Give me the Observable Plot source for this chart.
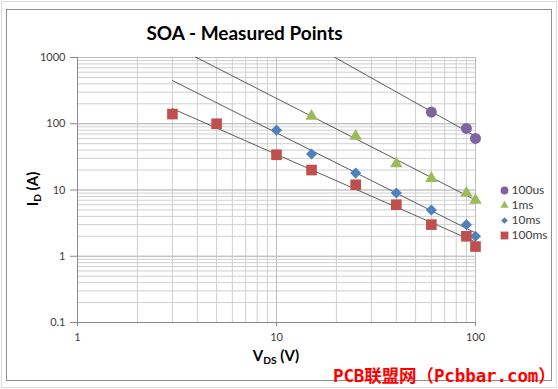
<!DOCTYPE html>
<html>
<head>
<meta charset="utf-8">
<script src="https://cdn.jsdelivr.net/npm/d3@7"></script>
<script src="https://cdn.jsdelivr.net/npm/@observablehq/plot@0.6"></script>
<style>
  html, body { margin: 0; padding: 0; background: #fff; }
  #wrap { position: relative; width: 558px; height: 389px; overflow: hidden; font-family: Lato, "Open Sans", sans-serif; }
  #outer { position: absolute; left: 1px; top: 1px; width: 554px; height: 385px; border: 1px solid #dcdcdc; }
  #frame { position: absolute; left: 6px; top: 9px; width: 544px; height: 370px; border: 1.5px solid #8f8f8f; }
  #chart { position: absolute; left: 0; top: 0; }
  #legend { position: absolute; left: 494px; top: 170px; }
  .lbl { position: absolute; font-weight: bold; color: #000; white-space: nowrap; }
  .lbl sub { font-size: 0.68em; vertical-align: -0.25em; }
  #title { left: 0; width: 489px; text-align: center; top: 21px; font-size: 19px; }
  #xlab { left: 0; width: 552px; text-align: center; top: 346px; font-size: 15px; }
  #ylab { left: 33px; top: 189px; font-size: 15px; transform: translate(-50%, -50%) rotate(-90deg); }
  #wm { position: absolute; left: 333px; top: 362px; color: #ff0000; font-size: 17.5px; font-weight: bold; font-family: "DejaVu Sans Mono", "Noto Sans CJK SC", monospace; white-space: nowrap; letter-spacing: -0.1px; }
</style>
</head>
<body>
<div id="wrap">
  <div id="outer"></div>
  <div id="frame"></div>
  <div id="chart"></div>
  <div id="legend"></div>
  <div class="lbl" id="title">SOA - Measured Points</div>
  <div class="lbl" id="ylab">I<sub>D</sub> (A)</div>
  <div class="lbl" id="xlab">V<sub>DS</sub> (V)</div>
  <div id="wm">PCB联盟网（Pcbbar.com）</div>
</div>
<script>
// ---- data ----
const seriesNames = ["100us", "1ms", "10ms", "100ms"];
const vds100us = [60, 90, 100];
const id100us  = [150, 85, 60];
const vds1ms   = [15, 25, 40, 60, 90, 100];
const id1ms    = [130, 65, 25, 15, 9, 7];
const vds10ms  = [10, 15, 25, 40, 60, 90, 100];
const id10ms   = [80, 35, 18, 9, 5, 3, 2];
const vds100ms = [3, 5, 10, 15, 25, 40, 60, 90, 100];
const id100ms  = [140, 100, 34, 20, 12, 6, 3, 2, 1.4];
const xTicks = [1, 10, 100];
const yTicks = [0.1, 1, 10, 100, 1000];
const trendRange = [3, 100]; // trendline extent (forecast back to 3 V)

// ---- styles ----
const colors  = ["#8064A2", "#9BBB59", "#4F81BD", "#C0504D"];
const symbols = ["circle", "triangle", "diamond2", "square"];
const sizes   = [5.5, 4.6, 5.0, 6.0];
const legendSizes = [3.9, 3.0, 3.0, 4.4];

const raw = [[vds100us, id100us], [vds1ms, id1ms], [vds10ms, id10ms], [vds100ms, id100ms]];
const points = raw.map(([xs, ys], i) => xs.map((x, j) => ({series: seriesNames[i], vds: x, id: ys[j]})));

// power-law (log-log least squares) trendlines, like the spreadsheet's trendline
const trends = raw.flatMap(([xs, ys], i) => {
  const lx = xs.map(Math.log10), ly = ys.map(Math.log10);
  const mx = d3.mean(lx), my = d3.mean(ly);
  const b = d3.sum(lx, (v, k) => (v - mx) * (ly[k] - my)) / d3.sum(lx, v => (v - mx) ** 2);
  const a = my - b * mx;
  return trendRange.map(x => ({series: seriesNames[i], vds: x, id: Math.pow(10, a + b * Math.log10(x))}));
});

const minorX = d3.range(0, 2).flatMap(e => d3.range(1, 10).map(m => m * 10 ** e)).concat([100]);
const minorY = d3.range(-1, 3).flatMap(e => d3.range(1, 10).map(m => +(m * 10 ** e).toPrecision(3))).concat([1000]);

const fmt = d => String(d);

const chart = Plot.plot({
  width: 558,
  height: 389,
  marginLeft: 77,
  marginRight: 83,
  marginTop: 57,
  marginBottom: 67,
  style: {fontFamily: "Lato, 'Open Sans', sans-serif", fontSize: "11px", color: "#404040", background: "transparent"},
  x: {type: "log", domain: [1, 100]},
  y: {type: "log", domain: [0.1, 1000]},
  symbol: {domain: seriesNames, range: symbols},
  color: {domain: seriesNames, range: colors},
  marks: [
    Plot.gridX(minorX, {stroke: "#cfcfcf", strokeOpacity: 1, strokeWidth: 1}),
    Plot.gridY(minorY, {stroke: "#cfcfcf", strokeOpacity: 1, strokeWidth: 1}),
    Plot.gridX(xTicks, {stroke: "#bdbdbd", strokeOpacity: 1, strokeWidth: 1}),
    Plot.gridY(yTicks, {stroke: "#bdbdbd", strokeOpacity: 1, strokeWidth: 1}),
    Plot.axisY({ticks: yTicks, tickFormat: fmt, tickSize: 7, tickPadding: 5, stroke: "#8a8a8a", label: null}),
    Plot.axisX({ticks: xTicks, tickFormat: fmt, tickSize: 4, tickPadding: 7, stroke: "#8a8a8a", label: null}),
    Plot.ruleX([1], {stroke: "#8a8a8a"}),
    Plot.ruleY([0.1], {stroke: "#8a8a8a"}),
    Plot.line(trends, {x: "vds", y: "id", z: "series", stroke: "#4a4a4a", strokeWidth: 0.9, clip: true}),
    ...points.map((pts, i) => Plot.dot(pts, {x: "vds", y: "id", symbol: "series", fill: "series", r: sizes[i]}))
  ]
});
document.getElementById("chart").appendChild(chart);

const legend = Plot.plot({
  width: 60,
  height: 94,
  marginLeft: 0, marginRight: 0, marginTop: 11, marginBottom: 21,
  style: {fontFamily: "Lato, 'Open Sans', sans-serif", fontSize: "12px", color: "#404040", background: "transparent"},
  y: {type: "point", domain: seriesNames, axis: null},
  symbol: {domain: seriesNames, range: symbols},
  color: {domain: seriesNames, range: colors},
  marks: [
    ...seriesNames.map((s, i) => Plot.dot([s], {y: d => d, frameAnchor: "left", dx: 10, symbol: d => d, fill: d => d, r: legendSizes[i]})),
    Plot.text(seriesNames, {y: d => d, frameAnchor: "left", dx: 17, textAnchor: "start", text: d => d, fill: "#404040"})
  ]
});
document.getElementById("legend").appendChild(legend);
</script>
</body>
</html>
